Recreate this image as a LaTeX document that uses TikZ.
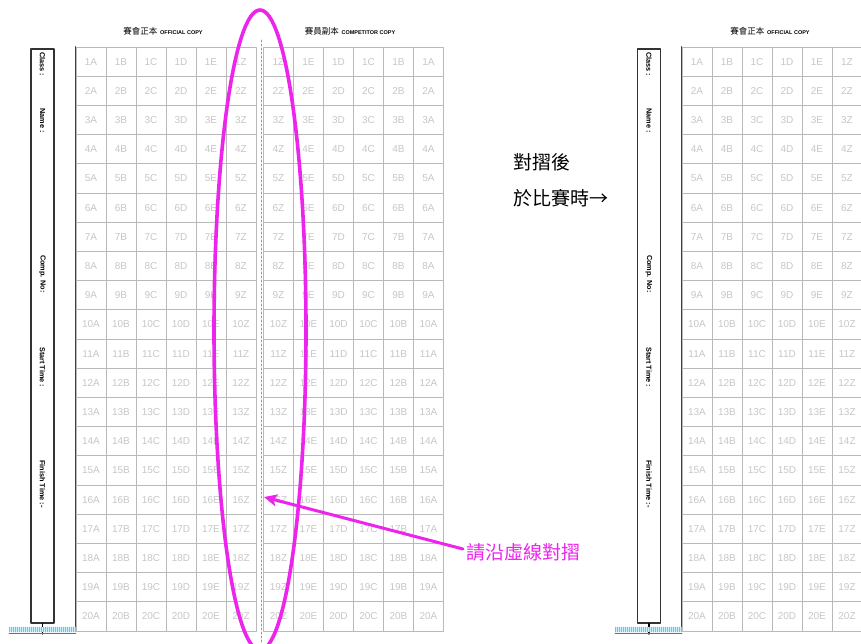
\documentclass[tikz,border=0pt]{standalone}
\usepackage{fontspec}
\usetikzlibrary{arrows.meta}
\setmainfont{Liberation Sans}
\newfontfamily\cjk{Noto Sans CJK TC}
\definecolor{tim}{RGB}{236,36,236}
\begin{document}
\begin{tikzpicture}[x=1pt, y=-1pt, line join=round, line cap=round, >=stealth,
	o/.style={draw=gray!55, line width=.8pt, minimum width=30pt, minimum height=29.2pt, inner sep=0pt, text=gray!45, font=\fontsize{10}{10}\selectfont},
	nhan/.style={rotate=-90, anchor=west, inner sep=0pt, font=\fontsize{7.3}{7}\selectfont\bfseries},
	tieude/.style={inner sep=0pt}]
	\useasboundingbox (0,0) rectangle (861,643);
	\clip (0,0) rectangle (861,643);
	\def\w{30} % Chiều rộng ô
	\def\hh{29.2} % Chiều cao ô
	\def\top{47} % Mép trên lưới
	% Các ô của ba khối
	\foreach \xo/\huong/\ten in {76/1/L, 443.5/-1/M, 682/1/R}
	\foreach \r in {1,...,20}
	\foreach \c [count=\i] in {A,B,C,D,E,Z}
	\node[o] (\ten\r\c) at ({\xo+\huong*\w*(\i-.5)},{\top+\hh*(\r-.5)}) {\r\c};
	\foreach \ten in {L,R} \draw[line width=1pt, black!75] (\ten1A.north west)--(\ten20A.south west);
	% Đường gấp
	\coordinate (G1) at (261,40);
	\coordinate (G2) at (261,643);
	\draw[gray!80, line width=.8pt, dash pattern=on 2pt off 2pt] (G1)--(G2);
	% Tiêu đề
	\node[tieude] (h1) at (163,31) {{\cjk\fontsize{8.5}{9}\selectfont 賽會正本} {\fontsize{5.5}{6}\selectfont\bfseries OFFICIAL COPY}};
	\node[tieude] (h2) at (350,31) {{\cjk\fontsize{8.5}{9}\selectfont 賽員副本} {\fontsize{5.5}{6}\selectfont\bfseries COMPETITOR COPY}};
	\node[tieude] (h3) at (770,31) {{\cjk\fontsize{8.5}{9}\selectfont 賽會正本} {\fontsize{5.5}{6}\selectfont\bfseries OFFICIAL COPY}};
	% Dải ghi tên
	\foreach \xm/\ten/\a/\b in {42.5/T/9/76, 649/P/615/682}{
		\node[draw, line width=1.1pt, black!80, minimum width=23pt, minimum height=574pt, inner sep=0pt] (\ten) at (\xm,336) {};
		\node[nhan] (\ten c) at (\xm,52) {Class :};
		\node[nhan] (\ten n) at (\xm,108) {Name :};
		\node[nhan] (\ten s) at (\xm,255) {Comp. No:};
		\node[nhan] (\ten b) at (\xm,347) {Start Time :};
		\node[nhan] (\ten k) at (\xm,460) {Finish Time :-};
		\coordinate (\ten g) at (\xm,634);
		\draw[line width=1.3pt] (\ten.south)--(\ten g);
		\fill[cyan!20] (\a,627) rectangle (\b,632);
		\foreach \t in {0,2,...,66} \draw[red!45, line width=.5pt] ({\a+\t},627)--({\a+\t},632);
		\draw[red!80, line width=.8pt] (\a,633)--(\b,633);
	}
	% Chú thích
	\node[anchor=west, inner sep=0pt, font=\cjk\fontsize{19}{20}\selectfont] (sau) at (513,162) {對摺後};
	\node[anchor=west, inner sep=0pt, font=\cjk\fontsize{19}{20}\selectfont] (khi) at (513,198) {於比賽時→};
	\draw[tim, line width=3.6pt] (260,330) ellipse [x radius=46, y radius=320];
	\node[anchor=west, inner sep=0pt, text=tim, font=\cjk\fontsize{19}{20}\selectfont] (gap) at (466,552) {請沿虛線對摺};
	\coordinate (dich) at (264,497);
	\draw[tim, line width=3pt, -{Stealth[length=13pt, width=12pt, inset=3pt]}] ([xshift=-3pt, yshift=3pt]gap.west)--(dich);
\end{tikzpicture}
\end{document}
